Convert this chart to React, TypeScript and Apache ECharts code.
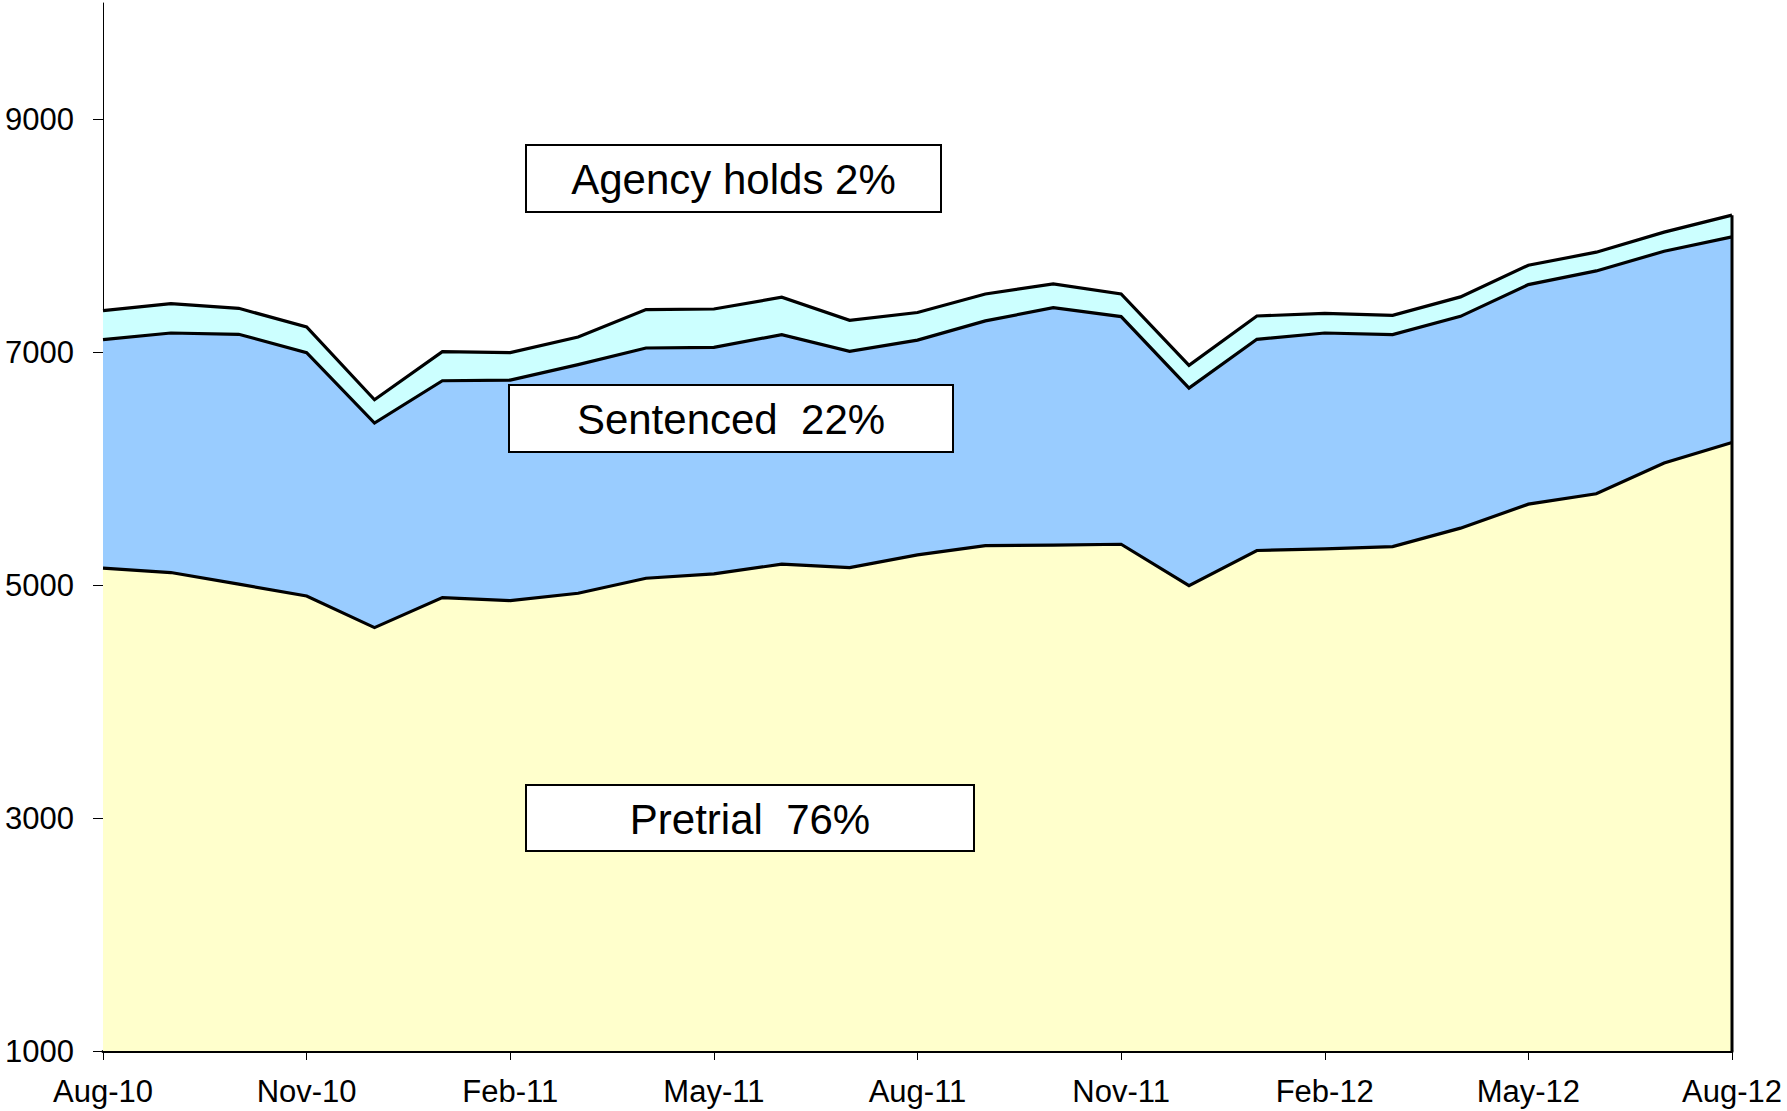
import React, { useEffect, useRef } from "react";
import * as echarts from "echarts";

const months: string[] = [
  "Aug-10", "Sep-10", "Oct-10", "Nov-10", "Dec-10", "Jan-11", "Feb-11", "Mar-11", "Apr-11",
  "May-11", "Jun-11", "Jul-11", "Aug-11", "Sep-11", "Oct-11", "Nov-11", "Dec-11", "Jan-12",
  "Feb-12", "Mar-12", "Apr-12", "May-12", "Jun-12", "Jul-12", "Aug-12",
];

const pretrial: number[] = [
  5146, 5109, 5009, 4908, 4636, 4894, 4868, 4931, 5060, 5097, 5181, 5152, 5260,
  5340, 5344, 5352, 4997, 5298, 5312, 5332, 5490, 5696, 5785, 6049, 6226,
];

const sentenced: number[] = [
  1963, 2057, 2146, 2089, 1757, 1862, 1894, 1963, 1977, 1946, 1971, 1857, 1845,
  1930, 2040, 1955, 1696, 1814, 1854, 1820, 1819, 1886, 1914, 1819, 1765,
];

const agencyHolds: number[] = [
  249, 252, 223, 221, 200, 250, 235, 238, 330, 329, 321, 266, 237,
  231, 203, 194, 195, 200, 169, 166, 167, 166, 161, 164, 187,
];

const yTicks: number[] = [1000, 3000, 5000, 7000, 9000];
const yMin = 1000;
const yMax = 10000;

const FONT = "Liberation Sans, Arial, sans-serif";

function labelBox(x: number, y: number, w: number, h: number, text: string) {
  return {
    type: "group",
    x,
    y,
    children: [
      {
        type: "rect",
        shape: { x: 0, y: 0, width: w, height: h },
        style: { fill: "#ffffff", stroke: "#000000", lineWidth: 2 },
        z: 100,
      },
      {
        type: "text",
        x: w / 2,
        y: h / 2 + 1,
        style: {
          text,
          fill: "#000000",
          font: `42px ${FONT}`,
          textAlign: "center",
          textVerticalAlign: "middle",
        },
        z: 101,
      },
    ],
  };
}

export default function App() {
  const ref = useRef<HTMLDivElement>(null);

  useEffect(() => {
    if (!ref.current) return;
    const chart = echarts.init(ref.current, undefined, { renderer: "svg" });
    const last = months.length - 1;
    const totalLast = pretrial[last] + sentenced[last] + agencyHolds[last];

    const areaSeries = (name: string, data: number[], color: string, z: number) => ({
      name,
      type: "line",
      stack: "total",
      data,
      symbol: "none",
      z,
      lineStyle: { color: "#000000", width: 3.2, join: "miter" },
      areaStyle: { color, opacity: 1 },
    });

    chart.setOption({
      animation: false,
      backgroundColor: "#ffffff",
      grid: {
        left: 103,
        right: 55,
        top: 3,
        bottom: 60,
        containLabel: false,
        outerBoundsMode: "none",
      },
      xAxis: {
        type: "category",
        data: months,
        boundaryGap: false,
        axisLine: { show: true, onZero: false, lineStyle: { color: "#000000", width: 3 } },
        axisTick: { show: true, interval: 2, length: 9, lineStyle: { color: "#000000", width: 1 } },
        axisLabel: {
          interval: 2,
          color: "#000000",
          fontFamily: FONT,
          fontSize: 31,
          margin: 25,
        },
        splitLine: { show: false },
      },
      yAxis: {
        type: "value",
        min: yMin,
        max: yMax,
        axisLine: { show: true, lineStyle: { color: "#000000", width: 1 } },
        axisTick: {
          show: true,
          length: 10,
          customValues: yTicks,
          lineStyle: { color: "#000000", width: 1 },
        },
        axisLabel: {
          customValues: yTicks,
          color: "#000000",
          fontFamily: FONT,
          fontSize: 31,
          margin: 29,
          formatter: (v: number) => String(v),
        },
        splitLine: { show: false },
      },
      series: [
        areaSeries("Pretrial", pretrial, "#FFFFCC", 5),
        areaSeries("Sentenced", sentenced, "#99CCFF", 4),
        areaSeries("Agency holds", agencyHolds, "#CCFFFF", 3),
        {
          name: "edge",
          type: "line",
          data: [
            [months[last], yMin],
            [months[last], totalLast],
          ],
          symbol: "none",
          z: 6,
          lineStyle: { color: "#000000", width: 3 },
        },
      ],
      graphic: [
        labelBox(526, 145, 415, 67, "Agency holds 2%"),
        labelBox(509, 385, 444, 67, "Sentenced  22%"),
        labelBox(526, 785, 448, 66, "Pretrial  76%"),
      ],
    });

    return () => {
      chart.dispose();
    };
  }, []);

  return (
    <div
      ref={ref}
      style={{ position: "absolute", left: 0, top: 0, width: 1787, height: 1111 }}
    />
  );
}
